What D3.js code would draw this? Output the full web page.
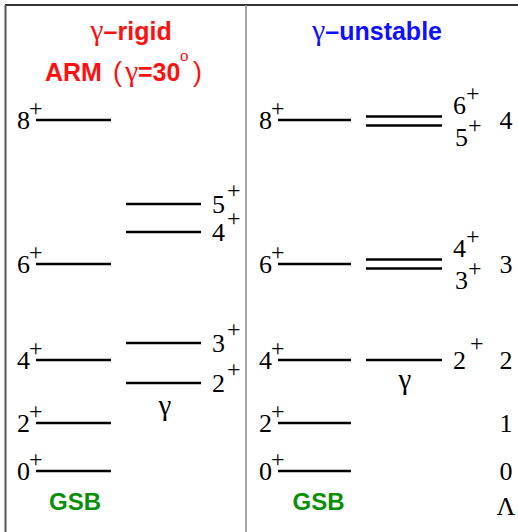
<!DOCTYPE html>
<html>
<head>
<meta charset="utf-8">
<script src="https://cdn.jsdelivr.net/npm/d3@7"></script>
<style>
  html, body { margin: 0; padding: 0; background: #fff; }
  svg { display: block; }
</style>
</head>
<body>
<svg id="chart" width="518" height="532"></svg>
<script>
// Level energies (arbitrary units) for the ground-state band (both models)
const gsbSpins = [0, 2, 4, 6, 8];
const gsbEnergy = [0, 0.48, 1.11, 2.07, 3.51];

// gamma-rigid (Davydov ARM, gamma = 30 deg) gamma band
const rigidGammaSpins = [2, 3, 4, 5];
const rigidGammaEnergy = [0.88, 1.28, 2.39, 2.67];

// gamma-unstable gamma band: degenerate multiplets per Lambda
const unstableGammaLambda = [2, 3, 4];
const unstableGammaSpins = [[2], [3, 4], [5, 6]];
const unstableGammaEnergy = [1.11, 2.07, 3.50];

// Lambda quantum numbers shown at the right edge
const lambdaValues = [0, 1, 2, 3, 4];

const svg = d3.select("#chart");
const y = d3.scaleLinear().domain([0, 3.51]).range([471, 120]);

const serif = "'Liberation Serif', 'Times New Roman', serif";
const sans = "'Liberation Sans', Arial, Helvetica, sans-serif";

// frame
svg.append("line").attr("x1", 5).attr("x2", 518).attr("y1", 5).attr("y2", 5)
  .attr("stroke", "#333").attr("stroke-width", 2);
svg.append("line").attr("x1", 5.5).attr("x2", 5.5).attr("y1", 5).attr("y2", 532)
  .attr("stroke", "#555").attr("stroke-width", 2);
svg.append("line").attr("x1", 246).attr("x2", 246).attr("y1", 5).attr("y2", 532)
  .attr("stroke", "#888").attr("stroke-width", 1.5);

function level(x1, x2, yy) {
  svg.append("line").attr("x1", x1).attr("x2", x2).attr("y1", yy).attr("y2", yy)
    .attr("stroke", "#000").attr("stroke-width", 2.6);
}

// spin label "J+" with the digit centred on yc
function spinLabel(x, yc, j, anchor, plusGap, plusRise) {
  const t = svg.append("text")
    .attr("font-family", serif).attr("font-size", 26)
    .attr("x", x).attr("y", yc + 8.8)
    .attr("text-anchor", anchor).text(j);
  const w = t.node().getComputedTextLength();
  const xr = anchor === "end" ? x : x + w;
  svg.append("text")
    .attr("font-family", serif).attr("font-size", 24)
    .attr("x", xr + plusGap).attr("y", yc - plusRise + 6.5)
    .text("+");
}

// ground-state bands
const panels = [
  { gx1: 36, gx2: 111 },
  { gx1: 278, gx2: 351 }
];
panels.forEach(p => {
  gsbSpins.forEach((j, i) => {
    const yy = y(gsbEnergy[i]);
    level(p.gx1, p.gx2, yy);
    spinLabel(p.gx1 - 6, yy, j, "end", -1, 11);
  });
});

// gamma-rigid gamma band
rigidGammaSpins.forEach((j, i) => {
  const yy = y(rigidGammaEnergy[i]);
  level(126, 201, yy);
  spinLabel(212, yy, j, "start", 2, 13);
});

// gamma-unstable gamma band (double lines mark degenerate pairs)
unstableGammaLambda.forEach((lam, i) => {
  const yc = y(unstableGammaEnergy[i]);
  const spins = unstableGammaSpins[i];
  if (spins.length === 1) {
    level(366, 442, yc);
    spinLabel(453, yc, spins[0], "start", 4, 16);
  } else {
    level(366, 442, yc - 4.5);
    level(366, 442, yc + 4.5);
    spinLabel(453, yc - 16, spins[1], "start", 0, 11);
    spinLabel(455, yc + 16, spins[0], "start", 0, 11);
  }
});

// Lambda column
lambdaValues.forEach((lam, i) => {
  svg.append("text").attr("font-family", serif).attr("font-size", 26)
    .attr("x", 506).attr("y", y(gsbEnergy[i]) + 9)
    .attr("text-anchor", "middle").text(lam);
});
svg.append("text").attr("font-family", serif).attr("font-size", 26)
  .attr("x", 506).attr("y", 515).attr("text-anchor", "middle").text("\u039B");

// band names
svg.append("text").attr("font-family", serif).attr("font-size", 29)
  .attr("x", 165).attr("y", 415).attr("text-anchor", "middle").text("\u03B3");
svg.append("text").attr("font-family", serif).attr("font-size", 29)
  .attr("x", 405).attr("y", 389).attr("text-anchor", "middle").text("\u03B3");

[75, 318.5].forEach(cx => {
  svg.append("text").attr("font-family", sans).attr("font-weight", "bold")
    .attr("font-size", 24).attr("fill", "#089008")
    .attr("x", cx).attr("y", 510).attr("text-anchor", "middle").text("GSB");
});

// titles
const red = "#ff1010", blue = "#1010ff";
const t1 = svg.append("text").attr("font-family", sans).attr("font-weight", "bold")
  .attr("font-size", 25).attr("fill", red).attr("x", 131).attr("y", 40)
  .attr("text-anchor", "middle");
t1.append("tspan").attr("font-family", serif).attr("font-weight", "normal")
  .attr("font-size", 30).text("\u03B3");
t1.append("tspan").text("\u2013rigid");

const t2 = svg.append("text").attr("font-family", sans).attr("font-weight", "bold")
  .attr("font-size", 25).attr("fill", red).attr("y", 81);
t2.append("tspan").attr("x", 45).text("ARM");
t2.append("tspan").attr("x", 113).attr("font-weight", "normal")
  .attr("font-size", 27).text("(");
t2.append("tspan").attr("x", 125).attr("font-family", serif).attr("font-weight", "normal")
  .attr("font-size", 30).text("\u03B3");
t2.append("tspan").attr("x", 138).text("=30");
t2.append("tspan").attr("x", 180).attr("dy", -20).attr("font-family", serif)
  .attr("font-weight", "normal").attr("font-size", 17).text("o");
t2.append("tspan").attr("x", 193).attr("dy", 20).attr("font-weight", "normal")
  .attr("font-size", 27).text(")");

const t3 = svg.append("text").attr("font-family", sans).attr("font-weight", "bold")
  .attr("font-size", 25).attr("fill", blue).attr("x", 377).attr("y", 40)
  .attr("text-anchor", "middle");
t3.append("tspan").attr("font-family", serif).attr("font-weight", "normal")
  .attr("font-size", 30).text("\u03B3");
t3.append("tspan").text("\u2013unstable");
</script>
</body>
</html>
